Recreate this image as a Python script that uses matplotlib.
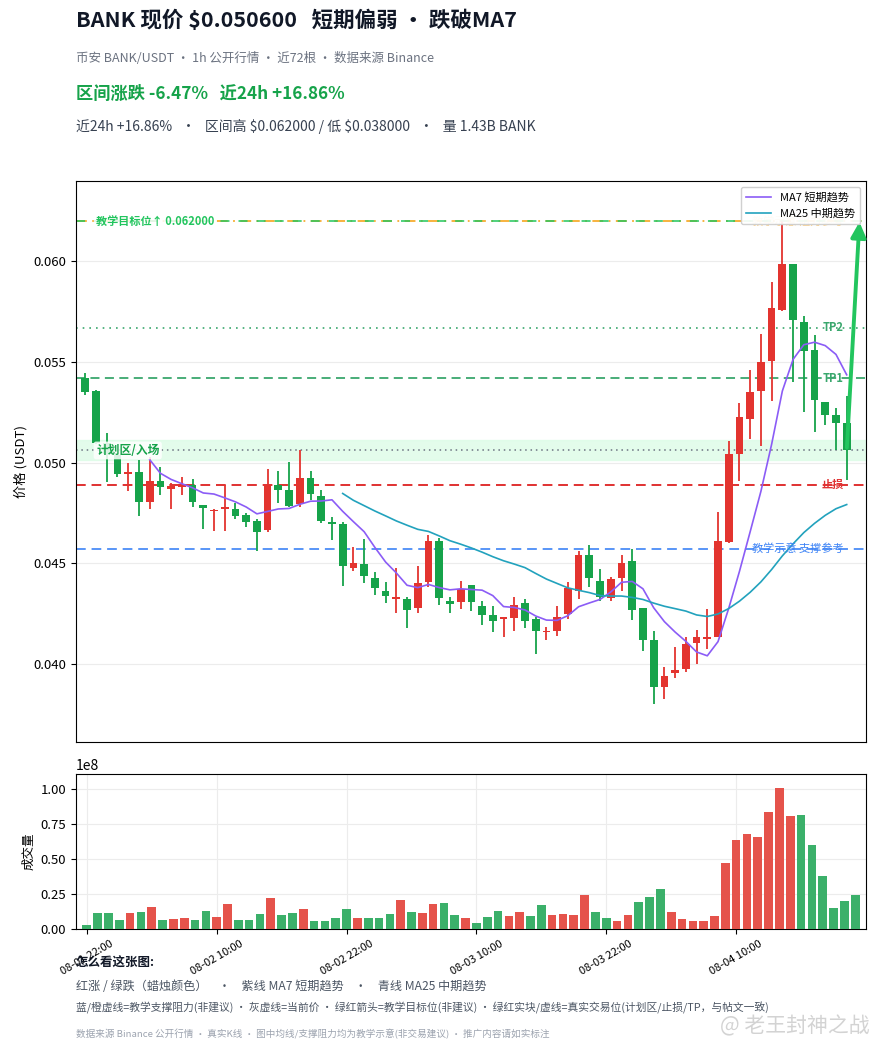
"""BANK/USDT 1h: candele + MA7/MA25 + volumi, con livelli didattici."""
import matplotlib
matplotlib.use("Agg")
import matplotlib.pyplot as plt
import pandas as pd

plt.rcParams["font.family"] = ["Noto Sans CJK SC", "DejaVu Sans"]
plt.rcParams["axes.unicode_minus"] = False

# ── Dati ──────────────────────────────────────────────────────────────
opens = [
    0.05418, 0.05358, 0.05096, 0.05035, 0.04945, 0.04952, 0.04802, 0.04910,
    0.04866, 0.04876, 0.04886, 0.04791, 0.04758, 0.04770, 0.04771, 0.04741,
    0.04711, 0.04662, 0.04889, 0.04861, 0.04796, 0.04922, 0.04831, 0.04703,
    0.04692, 0.04474, 0.04493, 0.04424, 0.04361, 0.04322, 0.04322, 0.04275,
    0.04404, 0.04612, 0.04313, 0.04305, 0.04393, 0.04284, 0.04242, 0.04222,
    0.04225, 0.04302, 0.04222, 0.04156, 0.04161, 0.04247, 0.04363, 0.04542,
    0.04413, 0.04325, 0.04424, 0.04512, 0.04275, 0.04119, 0.03882, 0.03952,
    0.03973, 0.04101, 0.04123, 0.04131, 0.04604, 0.05043, 0.05214, 0.05355,
    0.05504, 0.05760, 0.05985, 0.05701, 0.05562, 0.05303, 0.05234, 0.05196,
]
highs = [
    0.05443, 0.05360, 0.05146, 0.05040, 0.05000, 0.05010, 0.05025, 0.04980,
    0.04900, 0.04930, 0.04920, 0.04791, 0.04770, 0.04886, 0.04800, 0.04750,
    0.04720, 0.04970, 0.04960, 0.05001, 0.05063, 0.04960, 0.04861, 0.04731,
    0.04703, 0.04582, 0.04622, 0.04453, 0.04404, 0.04474, 0.04333, 0.04483,
    0.04640, 0.04624, 0.04333, 0.04413, 0.04393, 0.04313, 0.04284, 0.04231,
    0.04333, 0.04323, 0.04230, 0.04180, 0.04284, 0.04405, 0.04562, 0.04592,
    0.04471, 0.04433, 0.04542, 0.04570, 0.04275, 0.04161, 0.03982, 0.04081,
    0.04131, 0.04168, 0.04272, 0.04753, 0.05106, 0.05295, 0.05458, 0.05640,
    0.05897, 0.06200, 0.05985, 0.05731, 0.05632, 0.05303, 0.05272, 0.05333,
]
lows = [
    0.05338, 0.05090, 0.04905, 0.04930, 0.04856, 0.04736, 0.04771, 0.04836,
    0.04771, 0.04836, 0.04780, 0.04670, 0.04660, 0.04660, 0.04720, 0.04678,
    0.04562, 0.04653, 0.04798, 0.04778, 0.04778, 0.04814, 0.04698, 0.04617,
    0.04388, 0.04461, 0.04400, 0.04343, 0.04300, 0.04250, 0.04178, 0.04250,
    0.04380, 0.04289, 0.04250, 0.04272, 0.04260, 0.04194, 0.04156, 0.04134,
    0.04164, 0.04176, 0.04048, 0.04118, 0.04136, 0.04222, 0.04322, 0.04380,
    0.04313, 0.04310, 0.04360, 0.04219, 0.04065, 0.03800, 0.03824, 0.03929,
    0.03957, 0.03998, 0.04073, 0.04131, 0.04599, 0.04907, 0.05118, 0.05080,
    0.05308, 0.05753, 0.05400, 0.05250, 0.05151, 0.05189, 0.05063, 0.04914,
]
closes = [
    0.05353, 0.05096, 0.05040, 0.04945, 0.04955, 0.04803, 0.04910, 0.04876,
    0.04882, 0.04891, 0.04802, 0.04775, 0.04766, 0.04778, 0.04736, 0.04703,
    0.04653, 0.04886, 0.04861, 0.04783, 0.04922, 0.04844, 0.04711, 0.04695,
    0.04484, 0.04501, 0.04434, 0.04376, 0.04335, 0.04330, 0.04267, 0.04401,
    0.04612, 0.04325, 0.04297, 0.04371, 0.04306, 0.04244, 0.04211, 0.04231,
    0.04293, 0.04210, 0.04161, 0.04164, 0.04234, 0.04375, 0.04542, 0.04424,
    0.04333, 0.04421, 0.04501, 0.04264, 0.04119, 0.03882, 0.03940, 0.03970,
    0.04098, 0.04131, 0.04131, 0.04612, 0.05043, 0.05225, 0.05353, 0.05502,
    0.05770, 0.05985, 0.05711, 0.05554, 0.05313, 0.05234, 0.05196, 0.05060,
]
# volumi in milioni di BANK
volumes_m = [
    3.1, 11.7, 11.7, 6.7, 11.7, 12.4, 16.0, 6.7, 7.4, 8.1, 6.7, 13.1,
    8.8, 18.1, 6.7, 6.7, 11.0, 22.4, 10.2, 11.7, 14.5, 6.0, 6.0, 8.1,
    14.5, 8.1, 8.1, 8.1, 11.0, 21.0, 12.4, 11.7, 18.1, 18.8, 10.2, 8.1,
    4.5, 8.8, 13.1, 9.5, 12.4, 9.5, 17.4, 10.2, 11.0, 10.2, 24.5, 12.4,
    8.1, 6.0, 10.2, 19.5, 23.1, 28.8, 12.4, 7.4, 6.0, 6.0, 9.5, 47.4,
    63.8, 68.1, 66.0, 83.8, 101.0, 81.0, 81.7, 60.2, 38.1, 15.2, 20.2, 24.5,
]
tick_pos = [0, 12, 24, 36, 48, 60]
tick_labels = ["08-01 22:00", "08-02 10:00", "08-02 22:00",
               "08-03 10:00", "08-03 22:00", "08-04 10:00"]

# livelli didattici / di trading
target_px = 0.062
resist_px = 0.062
tp2_px = 0.0567
tp1_px = 0.0542
plan_lo, plan_hi = 0.0501, 0.0511
current_px = 0.0506
stop_px = 0.0489
support_px = 0.0457

# ── Stile ─────────────────────────────────────────────────────────────
UP = "#e3342f"      # rosso = rialzo
DOWN = "#16a34a"    # verde = ribasso
VOL_UP = "#e5534b"
VOL_DOWN = "#3bb06a"
MA7_C = "#8b5cf6"
MA25_C = "#22a2bd"

df = pd.DataFrame({"o": opens, "h": highs, "l": lows, "c": closes,
                   "v": [v * 1e6 for v in volumes_m]})
df["ma7"] = df["c"].rolling(7).mean()
df["ma25"] = df["c"].rolling(25).mean()
up = df["c"] >= df["o"]
colors = [UP if u else DOWN for u in up]
vcolors = [VOL_UP if u else VOL_DOWN for u in up]
x = list(range(len(df)))

W, H = 877, 1051
fig = plt.figure(figsize=(W / 100, H / 100), dpi=100)
fig.patch.set_facecolor("white")


def fx(px):
    return px / W


def fy(py):
    return 1 - py / H


# ── Testata ───────────────────────────────────────────────────────────
fig.text(fx(76), fy(20), r"BANK 现价 \$0.050600   短期偏弱 • 跌破MA7",
         fontsize=15.5, fontweight="bold", color="#111827", va="center")
fig.text(fx(76), fy(59), "币安 BANK/USDT · 1h 公开行情 · 近72根 · 数据来源 Binance",
         fontsize=9, color="#6b7280", va="center")
fig.text(fx(76), fy(94), "区间涨跌 -6.47%   近24h +16.86%",
         fontsize=12.4, fontweight="bold", color="#16a34a", va="center")
fig.text(fx(76), fy(127),
         r"近24h +16.86%   ·   区间高 \$0.062000 / 低 \$0.038000   ·   量 1.43B BANK",
         fontsize=10, color="#374151", va="center")

# ── Pannello prezzi ───────────────────────────────────────────────────
ax = fig.add_axes([fx(76), fy(742), fx(790), 561 / H])
ax.set_xlim(-0.87, 72.8)
ax.set_ylim(0.0361, 0.0640)
ax.grid(True, axis="y", color="#ececec", linewidth=0.8)
ax.set_axisbelow(True)

ax.axhspan(plan_lo, plan_hi, color="#dcfce7", alpha=0.8, zorder=0.5)
ax.axhline(current_px, color="#6b7280", linestyle=(0, (1, 2.5)), linewidth=1.1, zorder=1)
ax.axhline(resist_px, color="#f59e0b", linestyle=(0, (6, 3, 1, 3)), linewidth=1.3, alpha=0.85, zorder=1)
ax.axhline(target_px, color="#22c55e", linestyle=(0, (5, 5)), linewidth=1.3, alpha=0.85, zorder=1)
ax.axhline(tp2_px, color="#3aa76d", linestyle=(0, (1, 3)), linewidth=1.2, zorder=1)
ax.axhline(tp1_px, color="#3aa76d", linestyle=(0, (5, 3)), linewidth=1.3, zorder=1)
ax.axhline(stop_px, color="#e03131", linestyle=(0, (5, 3)), linewidth=1.4, zorder=1)
ax.axhline(support_px, color="#3b82f6", linestyle=(0, (5, 3)), linewidth=1.4, alpha=0.85, zorder=1)

bodies_lo = [min(o, c) for o, c in zip(df["o"], df["c"])]
bodies_h = [max(abs(c - o), 0.00005) for o, c in zip(df["o"], df["c"])]
ax.vlines(x, df["l"], df["h"], colors=colors, linewidth=1.3, zorder=3)
ax.bar(x, bodies_h, bottom=bodies_lo, width=0.72, color=colors, zorder=4)

ax.plot(x, df["ma7"], color=MA7_C, linewidth=1.2, label="MA7 短期趋势", zorder=5)
ax.plot(x, df["ma25"], color=MA25_C, linewidth=1.2, label="MA25 中期趋势", zorder=5)

lbl_box = dict(boxstyle="round,pad=0.2", facecolor="white", edgecolor="none", alpha=0.85)
ax.text(1.0, target_px, "教学目标位↑ 0.062000", color="#22c55e", fontsize=8,
        fontweight="bold", va="center", ha="left", bbox=lbl_box, zorder=6)
ax.text(1.0, current_px, "计划区/入场", color="#16a34a", fontsize=8.5,
        fontweight="bold", va="center", ha="left", bbox=lbl_box, zorder=6)
ax.text(70.7, tp2_px, "TP2", color="#3aa76d", fontsize=8, fontweight="bold",
        va="center", ha="right", zorder=6)
ax.text(70.7, tp1_px, "TP1", color="#3aa76d", fontsize=8, fontweight="bold",
        va="center", ha="right", zorder=6)
ax.text(70.7, stop_px, "止损", color="#e03131", fontsize=8, fontweight="bold",
        va="center", ha="right", zorder=6)
ax.text(70.7, support_px, "教学示意 支撑参考", color="#3b82f6", fontsize=8,
        va="center", ha="right", zorder=6)
# etichetta della resistenza: resta quasi coperta dalla legenda, come nell'originale
ax.text(70.7, resist_px, "教学示意 阻力参考", color="#f59e0b", fontsize=8,
        va="center", ha="right", alpha=0.5, zorder=2)

ax.annotate("", xy=(72.2, target_px + 0.0001), xytext=(71, current_px),
            arrowprops=dict(arrowstyle="-|>,head_length=0.9,head_width=0.45",
                            color="#22c55e", linewidth=2.8), zorder=7)

ax.set_xticks([])
ax.set_yticks([0.040, 0.045, 0.050, 0.055, 0.060])
ax.set_yticklabels([f"{v:.3f}" for v in [0.040, 0.045, 0.050, 0.055, 0.060]])
ax.tick_params(axis="y", labelsize=9.5)
ax.set_ylabel("价格 (USDT)", fontsize=9.5)
leg = ax.legend(loc="upper right", fontsize=8, framealpha=0.92,
                handlelength=2.2, borderpad=0.5, edgecolor="#cccccc")
leg.set_zorder(10)

# ── Pannello volumi ───────────────────────────────────────────────────
axv = fig.add_axes([fx(76), fy(929), fx(790), 155 / H])
axv.bar(x, df["v"], width=0.8, color=vcolors, zorder=3)
axv.set_xlim(-1.0, 72.0)
axv.set_ylim(0, df["v"].max() * 1.1)
axv.grid(True, color="#ececec", linewidth=0.8)
axv.set_axisbelow(True)
axv.set_xticks(tick_pos)
axv.set_xticklabels(tick_labels, rotation=30, fontsize=8)
axv.tick_params(axis="y", labelsize=9.5)
axv.set_ylabel("成交量", fontsize=9)

# ── Legenda a piè di pagina ───────────────────────────────────────────
fig.text(fx(76), fy(963), "怎么看这张图:", fontsize=9, fontweight="bold",
         color="#111827", va="center")
fig.text(fx(76), fy(986),
         "红涨 / 绿跌（蜡烛颜色）    ·    紫线 MA7 短期趋势    ·    青线 MA25 中期趋势",
         fontsize=8.7, color="#4b5563", va="center")
fig.text(fx(76), fy(1008),
         "蓝/橙虚线=教学支撑阻力(非建议) · 灰虚线=当前价 · 绿红箭头=教学目标位(非建议) · "
         "绿红实块/虚线=真实交易位(计划区/止损/TP，与帖文一致)",
         fontsize=7.75, color="#4b5563", va="center")
fig.text(fx(76), fy(1034),
         "数据来源 Binance 公开行情 · 真实K线 · 图中均线/支撑阻力均为教学示意(非交易建议) · 推广内容请如实标注",
         fontsize=6.9, color="#9ca3af", va="center")
fig.text(fx(870), fy(1026), "@ 老王封神之战", fontsize=15, color="#c8c8c8",
         va="center", ha="right", alpha=0.8)

fig.savefig("out.png", dpi=100, facecolor="white")
